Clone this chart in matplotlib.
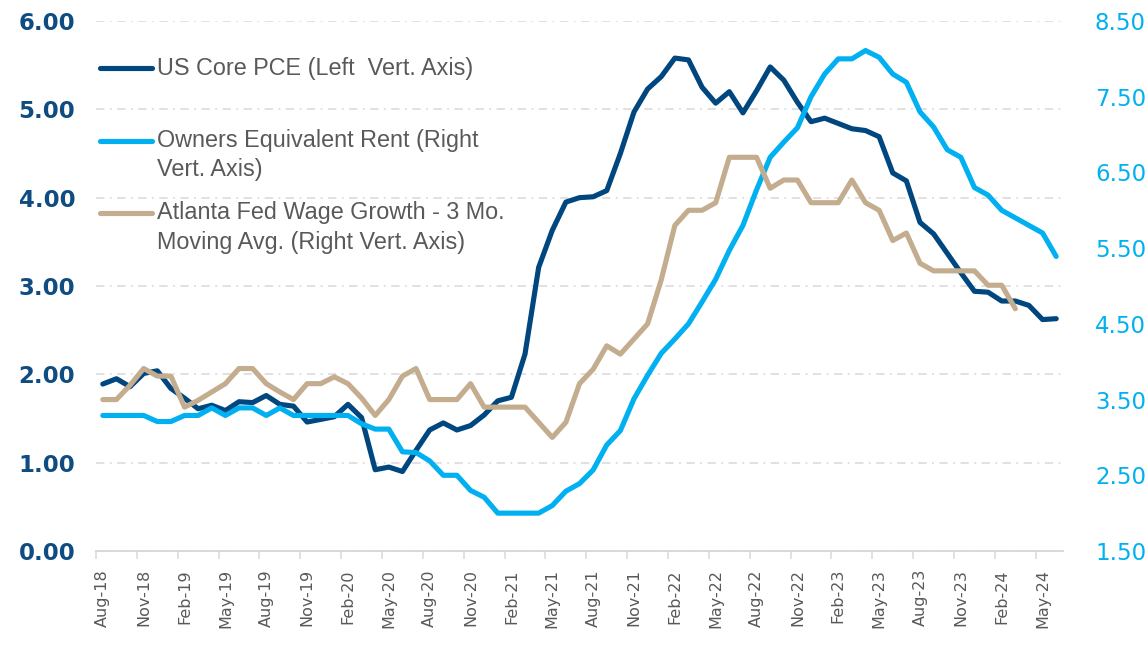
import numpy as np
import pandas as pd
import matplotlib
matplotlib.use("Agg")
import matplotlib.pyplot as plt
from matplotlib.lines import Line2D

# ---- data ----
months = pd.date_range("2018-08-01", periods=71, freq="MS").strftime("%b-%y").tolist()

core_pce = [1.89, 1.95, 1.86, 2.01, 2.04, 1.84, 1.73, 1.61, 1.65, 1.59,
            1.69, 1.68, 1.76, 1.66, 1.64, 1.46, 1.49, 1.52, 1.66, 1.51,
            0.92, 0.95, 0.90, 1.14, 1.37, 1.45, 1.37, 1.42, 1.54, 1.70,
            1.74, 2.23, 3.21, 3.63, 3.95, 4.00, 4.01, 4.08, 4.50, 4.97,
            5.23, 5.37, 5.58, 5.56, 5.25, 5.07, 5.20, 4.96, 5.21, 5.48,
            5.33, 5.08, 4.86, 4.90, 4.84, 4.78, 4.76, 4.69, 4.28, 4.19,
            3.72, 3.59, 3.37, 3.15, 2.94, 2.93, 2.83, 2.83, 2.78, 2.62,
            2.63]

oer = [3.29, 3.29, 3.29, 3.29, 3.21, 3.21, 3.29, 3.29, 3.39, 3.29,
       3.39, 3.39, 3.29, 3.39, 3.29, 3.29, 3.29, 3.29, 3.29, 3.18,
       3.11, 3.11, 2.81, 2.80, 2.69, 2.50, 2.50, 2.30, 2.21, 2.00,
       2.00, 2.00, 2.00, 2.10, 2.29, 2.39, 2.57, 2.90, 3.09, 3.51,
       3.82, 4.11, 4.30, 4.50, 4.79, 5.09, 5.47, 5.80, 6.27, 6.70,
       6.90, 7.09, 7.50, 7.80, 8.00, 8.00, 8.11, 8.02, 7.80, 7.69,
       7.30, 7.10, 6.80, 6.70, 6.30, 6.20, 6.00, 5.90, 5.80, 5.70,
       5.39]

wage_growth = [3.50, 3.50, 3.69, 3.91, 3.81, 3.81, 3.40, 3.49, 3.60, 3.71,
               3.91, 3.91, 3.71, 3.60, 3.50, 3.71, 3.71, 3.80, 3.71, 3.52,
               3.29, 3.50, 3.81, 3.91, 3.50, 3.50, 3.50, 3.71, 3.40, 3.40,
               3.40, 3.40, 3.20, 3.00, 3.20, 3.71, 3.90, 4.21, 4.10, 4.30,
               4.50, 5.08, 5.80, 6.00, 6.00, 6.10, 6.70, 6.70, 6.70, 6.29,
               6.40, 6.40, 6.10, 6.10, 6.10, 6.40, 6.10, 6.00, 5.60, 5.70,
               5.30, 5.20, 5.20, 5.20, 5.20, 5.01, 5.01, 4.70]

tick_labels = ["Aug-18", "Nov-18", "Feb-19", "May-19", "Aug-19", "Nov-19",
               "Feb-20", "May-20", "Aug-20", "Nov-20", "Feb-21", "May-21",
               "Aug-21", "Nov-21", "Feb-22", "May-22", "Aug-22", "Nov-22",
               "Feb-23", "May-23", "Aug-23", "Nov-23", "Feb-24", "May-24"]

left_ticks = [0, 1, 2, 3, 4, 5, 6]
right_ticks = [1.5, 2.5, 3.5, 4.5, 5.5, 6.5, 7.5, 8.5]

series_names = ["US Core PCE (Left  Vert. Axis)",
                "Owners Equivalent Rent (Right\nVert. Axis)",
                "Atlanta Fed Wage Growth - 3 Mo.\nMoving Avg. (Right Vert. Axis)"]

# ---- style ----
C_PCE = "#00467F"
C_OER = "#00B0F0"
C_WAGE = "#C3AD8E"
C_GRID = "#D9D9D9"
C_TEXT = "#595959"
C_LEFT = "#0F4C81"

W, H = 1148, 646
fig = plt.figure(figsize=(W / 100, H / 100), dpi=100)
ax = fig.add_axes([96 / W, 1 - 551 / H, (1063 - 96) / W, (551 - 21) / H])
ax2 = ax.twinx()

x = np.arange(len(months))
lw = 3.7
ax.plot(x[:len(core_pce)], core_pce, color=C_PCE, lw=lw,
        solid_capstyle="round", solid_joinstyle="round", zorder=3)
ax2.plot(x[:len(oer)], oer, color=C_OER, lw=lw,
         solid_capstyle="round", solid_joinstyle="round", zorder=3)
ax2.plot(x[:len(wage_growth)], wage_growth, color=C_WAGE, lw=lw,
         solid_capstyle="round", solid_joinstyle="round", zorder=4)

ax.set_xlim(-0.5, len(months) - 0.5)
ax.set_ylim(0, 6)
ax2.set_ylim(1.5, 8.5)

ax.set_yticks(left_ticks, [f"{v:.2f}" for v in left_ticks])
ax2.set_yticks(right_ticks, [f"{v:.2f}" for v in right_ticks])
ax.tick_params(axis="y", length=0, pad=15, labelsize=16.5, labelcolor=C_LEFT)
ax2.tick_params(axis="y", length=0, pad=23, labelsize=16.5, labelcolor=C_OER)
for t in ax.get_yticklabels():
    t.set_fontweight("bold")

# x axis: tick marks between categories, labels at categories
ax.set_xticks(np.arange(-0.5, len(months) - 1, 3))
ax.set_xticklabels([])
ax.tick_params(axis="x", which="major", length=5.5, width=1.1, color=C_GRID,
               direction="out")
label_pos = [months.index(l) for l in tick_labels]
ax.set_xticks(label_pos, tick_labels, minor=True)
ax.tick_params(axis="x", which="minor", length=0, pad=13, labelsize=11.5,
               labelcolor=C_TEXT, labelrotation=90)

ax.grid(axis="y", color=C_GRID, lw=1.1, linestyle=(0, (5.5, 3.5, 1.3, 3.5)))
ax.set_axisbelow(True)
for s in ["left", "right", "top"]:
    ax.spines[s].set_visible(False)
ax.spines["bottom"].set_color(C_GRID)
ax.spines["bottom"].set_linewidth(1.4)
ax.spines["bottom"].set_zorder(2.5)
for s in ax2.spines.values():
    s.set_visible(False)

# ---- manual legend (Excel-like) ----
entries = [(C_PCE, 68), (C_OER, 141), (C_WAGE, 213)]
for (col, yy), name in zip(entries, series_names):
    fig.add_artist(Line2D([100 / W, 152 / W], [1 - yy / H] * 2,
                          transform=fig.transFigure, color=col, lw=lw,
                          solid_capstyle="round"))
    for k, line in enumerate(name.split("\n")):
        fig.text(157 / W, 1 - (yy + 29 * k) / H, line, fontsize=16.8,
                 family="Liberation Sans", color=C_TEXT, va="center",
                 ha="left")

fig.savefig("out.png", dpi=100)
